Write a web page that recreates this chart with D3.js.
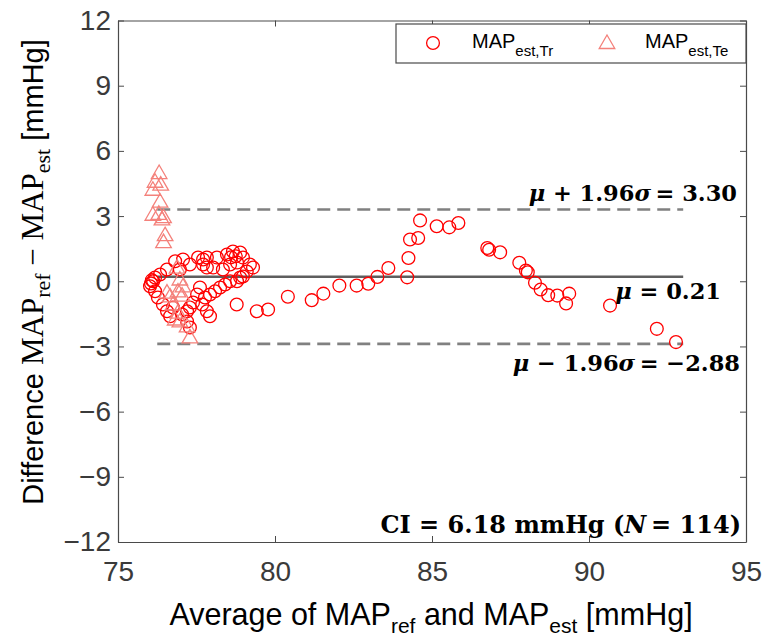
<!DOCTYPE html>
<html>
<head>
<meta charset="utf-8">
<script src="https://cdn.jsdelivr.net/npm/d3@7"></script>
<style>
  html, body { margin: 0; padding: 0; background: #fff; }
  svg { display: block; }
</style>
</head>
<body>
<svg id="chart" width="769" height="642"></svg>
<script>
// Bland–Altman data: [average of MAP_ref and MAP_est, difference MAP_ref - MAP_est] in mmHg
const trainingPoints = [
  // lower-left loop of the dense cluster
  [76.05, -0.10], [76.08, 0.05], [76.02, -0.23], [76.12, 0.00], [76.18, -0.46],
  [76.27, -0.75], [76.18, 0.17], [76.34, 0.31],
  [76.43, -1.07], [76.56, -1.38], [76.66, -1.61], [76.75, -1.21],
  // upper arc
  [76.56, 0.54], [76.82, 0.92], [76.97, 0.54], [77.07, 1.00], [77.29, 0.77],
  [77.55, 1.09], [77.71, 1.00], [77.71, 0.77], [77.83, 0.63], [77.83, 1.09],
  [78.03, 0.63], [78.15, 1.09], [78.34, 0.54], [78.47, 1.23], [78.57, 0.77],
  [78.66, 1.37], [78.79, 0.86], [78.89, 1.32], [78.98, 1.09], [79.10, 0.45],
  [79.20, 0.77], [79.30, 0.63], [78.75, 1.15], [78.60, 1.10],
  // rising diagonal
  [77.04, -1.53], [77.20, -1.38], [77.20, -1.85], [77.29, -1.21], [77.29, -2.13],
  [77.39, -0.98], [77.52, -0.61], [77.61, -0.29], [77.68, -1.07], [77.77, -0.75],
  [77.83, -1.38], [77.93, -0.61], [77.93, -1.61], [78.09, -0.46], [78.25, -0.29],
  [78.41, -0.15], [78.57, 0.00], [78.79, 0.00], [78.89, 0.17], [78.98, 0.22],
  // trailing points
  [78.78, -1.07], [79.42, -1.38], [79.78, -1.30], [80.41, -0.71],
  [81.17, -0.87], [81.54, -0.57], [82.05, -0.20], [82.60, -0.20], [82.97, -0.11],
  [83.26, 0.20], [83.61, 0.61], [84.21, 0.18], [84.25, 1.07], [84.30, 1.92],
  [84.56, 1.99], [84.62, 2.80], [85.15, 2.53], [85.55, 2.48], [85.84, 2.68],
  [86.76, 1.53], [86.82, 1.45], [87.17, 1.33], [87.78, 0.85], [87.99, 0.49],
  [88.05, 0.41], [88.28, -0.07], [88.46, -0.38], [88.70, -0.64], [88.99, -0.66],
  [89.37, -0.57], [89.27, -1.02], [90.67, -1.12], [92.16, -2.19], [92.77, -2.80]
];

const testPoints = [
  [76.31, 4.98], [76.18, 4.58], [76.36, 4.45], [76.11, 4.21], [76.34, 3.66],
  [76.11, 3.06], [76.30, 3.10], [76.45, 2.95], [76.40, 2.85], [76.50, 2.12],
  [76.45, 1.80],
  [76.88, 0.63], [76.97, 0.08], [77.07, -0.24], [76.56, -0.52], [76.91, -0.47],
  [76.66, -0.70], [77.04, -0.66], [76.75, -1.07], [76.91, -1.44], [76.82, -1.76],
  [76.97, -1.85], [77.20, -2.08], [77.29, -2.58]
];

// summary statistics
const meanDiff = 0.21;
const upperLoA = 3.30;
const lowerLoA = -2.88;
const limitSpan = [76.25, 93.0];

const xTicks = [75, 80, 85, 90, 95];
const yTicks = [-12, -9, -6, -3, 0, 3, 6, 9, 12];
const xDomain = [75, 95];
const yDomain = [-12, 12];

// ---------------------------------------------------------------
const svg = d3.select("#chart");
const m = { left: 118, right: 746, top: 20.5, bottom: 542 };

const x = d3.scaleLinear().domain(xDomain).range([m.left, m.right]);
const y = d3.scaleLinear().domain(yDomain).range([m.bottom, m.top]);

const tickFont = "'Liberation Sans', Arial, sans-serif";
const mathFont = "'DejaVu Serif', 'Liberation Serif', serif";
const labelSerif = "'Liberation Serif', 'Times New Roman', serif";

// axes with inward ticks on all four sides
function styleAxis(g) {
  g.select(".domain").attr("stroke", "#4a4a4a").attr("stroke-width", 1.2);
  g.selectAll(".tick line").attr("stroke", "#4a4a4a").attr("stroke-width", 1);
  g.selectAll(".tick text")
    .attr("fill", "#3a3a3a")
    .style("font-family", tickFont)
    .style("font-size", "28px");
}

svg.append("g")
  .attr("transform", `translate(0,${m.bottom})`)
  .call(d3.axisBottom(x).tickValues(xTicks).tickSize(-6).tickSizeOuter(0).tickPadding(19))
  .call(styleAxis);

svg.append("g")
  .attr("transform", `translate(0,${m.top})`)
  .call(d3.axisTop(x).tickValues(xTicks).tickSize(-6).tickSizeOuter(0).tickFormat(""))
  .call(styleAxis);

svg.append("g")
  .attr("transform", `translate(${m.left},0)`)
  .call(d3.axisLeft(y).tickValues(yTicks).tickSize(-6).tickSizeOuter(0).tickPadding(7))
  .call(styleAxis);

svg.append("g")
  .attr("transform", `translate(${m.right},0)`)
  .call(d3.axisRight(y).tickValues(yTicks).tickSize(-6).tickSizeOuter(0).tickFormat(""))
  .call(styleAxis);

// mean and limits of agreement
svg.append("line")
  .attr("x1", x(limitSpan[0])).attr("x2", x(limitSpan[1]))
  .attr("y1", y(meanDiff)).attr("y2", y(meanDiff))
  .attr("stroke", "#5e5e5e").attr("stroke-width", 2.6);

[upperLoA, lowerLoA].forEach(v => {
  svg.append("line")
    .attr("x1", x(limitSpan[0])).attr("x2", x(limitSpan[1]))
    .attr("y1", y(v)).attr("y2", y(v))
    .attr("stroke", "#808080").attr("stroke-width", 2.6)
    .attr("stroke-dasharray", "13,7");
});

// markers
const trainColor = "#ff0000";
const testColor = "#f4817b";
const tri = d3.symbol().type(d3.symbolTriangle).size(105);

svg.append("g").selectAll("circle")
  .data(trainingPoints)
  .join("circle")
  .attr("cx", d => x(d[0]))
  .attr("cy", d => y(d[1]))
  .attr("r", 6.4)
  .attr("fill", "none")
  .attr("stroke", trainColor)
  .attr("stroke-width", 1.3);

svg.append("g").selectAll("path")
  .data(testPoints)
  .join("path")
  .attr("transform", d => `translate(${x(d[0])},${y(d[1]) + 1})`)
  .attr("d", tri)
  .attr("fill", "none")
  .attr("stroke", testColor)
  .attr("stroke-width", 1.3);

// legend
const legend = svg.append("g");
legend.append("rect")
  .attr("x", 396).attr("y", 24).attr("width", 350).attr("height", 39)
  .attr("fill", "#fff").attr("stroke", "#4a4a4a").attr("stroke-width", 1.2);
legend.append("circle")
  .attr("cx", 433).attr("cy", 43).attr("r", 6.4)
  .attr("fill", "none").attr("stroke", trainColor).attr("stroke-width", 1.3);
legend.append("path")
  .attr("transform", "translate(607,44)")
  .attr("d", tri)
  .attr("fill", "none").attr("stroke", testColor).attr("stroke-width", 1.3);

function legendLabel(x0, sub) {
  const t = legend.append("text")
    .attr("x", x0).attr("y", 48)
    .style("font-family", tickFont).style("font-size", "20px").attr("fill", "#000");
  t.append("tspan").text("MAP");
  t.append("tspan").attr("dy", 8).style("font-size", "15px").text(sub);
}
legendLabel(472, "est,Tr");
legendLabel(645, "est,Te");

// annotations (bold math text, Greek symbols and N in italic)
function mathLabel(xEnd, yBase, parts, size) {
  const t = svg.append("text")
    .attr("x", xEnd).attr("y", yBase)
    .attr("text-anchor", "end")
    .style("font-family", mathFont)
    .style("font-weight", "bold")
    .style("font-size", size + "px")
    .attr("fill", "#000");
  parts.forEach(p => {
    const s = t.append("tspan").text(p[0]);
    if (p[1]) s.style("font-style", "italic");
  });
}

mathLabel(737, 201, [["μ", 1], [" + 1.96"], ["σ", 1], ["\u2009= 3.30"]], 22.5);
mathLabel(721, 299, [["μ", 1], [" = 0.21"]], 22.5);
mathLabel(740, 371, [["μ", 1], [" − 1.96"], ["σ", 1], ["\u2009=  −2.88"]], 22.5);
mathLabel(741, 533, [["CI = 6.18 mmHg ("], ["N", 1], ["\u2009= 114)"]], 24);

// axis titles
const xt = svg.append("text")
  .attr("x", 431).attr("y", 625)
  .attr("text-anchor", "middle")
  .style("font-family", tickFont).style("font-size", "30.5px").attr("fill", "#000");
xt.append("tspan").text("Average of MAP");
xt.append("tspan").attr("dy", 8).style("font-size", "21px").text("ref");
xt.append("tspan").attr("dy", -8).text(" and MAP");
xt.append("tspan").attr("dy", 8).style("font-size", "21px").text("est");
xt.append("tspan").attr("dy", -8).text(" [mmHg]");

const yt = svg.append("text")
  .attr("transform", "translate(43,272) rotate(-90)")
  .attr("text-anchor", "middle")
  .style("font-family", tickFont).style("font-size", "29px").attr("fill", "#000");
yt.append("tspan").text("Difference ");
yt.append("tspan").style("font-family", labelSerif).style("font-size", "31px").text("MAP");
yt.append("tspan").attr("dy", 7).style("font-family", labelSerif).style("font-size", "22px").text("ref");
yt.append("tspan").attr("dy", -7).style("font-family", labelSerif).style("font-size", "31px").text(" − MAP");
yt.append("tspan").attr("dy", 7).style("font-family", labelSerif).style("font-size", "22px").text("est");
yt.append("tspan").attr("dy", -7).text(" [mmHg]");
</script>
</body>
</html>
